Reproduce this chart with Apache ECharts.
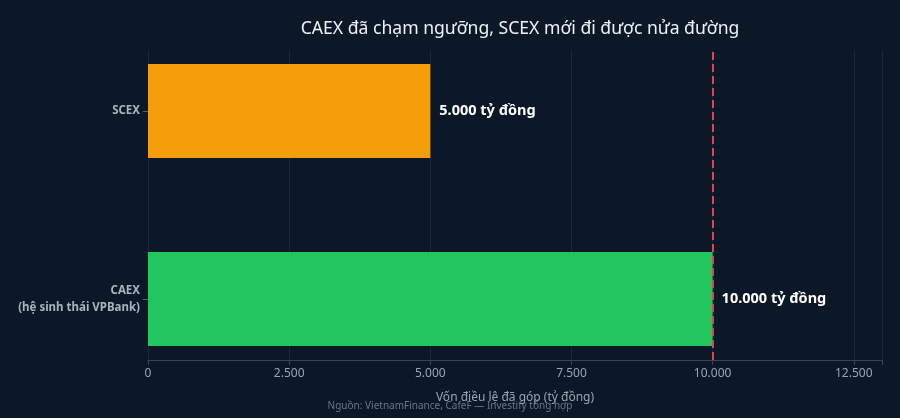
<!DOCTYPE html><html><head><meta charset="utf-8"><script src="https://cdn.jsdelivr.net/npm/echarts@6/dist/echarts.min.js"></script>
<style>html,body{margin:0;background:#0c1727}#c{width:900px;height:418px}</style></head><body><div id="c"></div><script>
const categories=['CAEX\n(hệ sinh thái VPBank)','SCEX'];
const values=[10000,5000];
const colors=['#22c55e','#f59e0b'];
const threshold=10000;
const fmt=v=>v.toLocaleString('de-DE');
const ch=echarts.init(document.getElementById('c'));
ch.setOption({backgroundColor:'#0c1727',textStyle:{fontFamily:'Noto Sans'},
title:{text:'CAEX đã chạm ngưỡng, SCEX mới đi được nửa đường',left:515,top:15,textAlign:'center',textStyle:{color:'#eef2f7',fontSize:17.6,fontWeight:'normal'}},
graphic:[{type:'text',left:'center',top:401,style:{text:'Nguồn: VietnamFinance, CafeF — Investify tổng hợp',fill:'#6b7788',fontSize:10,fontFamily:'Noto Sans'}}],
grid:[{left:148,right:18,top:17,bottom:25},{left:148,right:18,top:50,bottom:58}],
xAxis:[{gridIndex:0,type:'value',min:0,max:13000,show:false},
{gridIndex:1,type:'value',min:0,max:13000,interval:2500,name:'Vốn điều lệ đã góp (tỷ đồng)',nameLocation:'middle',nameGap:32,nameTextStyle:{color:'#9aa5b4',fontSize:12},
axisLabel:{color:'#9aa5b4',fontSize:12,formatter:v=>v%2500===0?fmt(v):''},axisLine:{show:true,lineStyle:{color:'#3a4556'}},axisTick:{show:true,lineStyle:{color:'#3a4556'}},
splitLine:{lineStyle:{color:'#1c2738'}}}],
yAxis:[{gridIndex:0,type:'category',data:categories,axisLabel:{color:'#aab3c0',fontSize:11.5,fontWeight:'bold',lineHeight:17},axisLine:{show:false},axisTick:{show:true,alignWithLabel:true,length:5,lineStyle:{color:'#5a6576'}}},
{gridIndex:1,type:'value',show:false,min:0,max:1}],
series:[{type:'bar',xAxisIndex:0,yAxisIndex:0,barWidth:94,z:1,data:values.map((v,i)=>({value:v,itemStyle:{color:colors[i]}})),
label:{show:true,position:'right',distance:9,color:'#fff',fontSize:14.5,fontWeight:'bold',formatter:p=>fmt(p.value)+' tỷ đồng'}},
{type:'line',xAxisIndex:1,yAxisIndex:1,data:[],z:5,
markLine:{silent:true,symbol:'none',label:{show:false},lineStyle:{color:'#e0454f',type:[8,4],width:2},data:[{xAxis:threshold}]}}]});
</script></body></html>
